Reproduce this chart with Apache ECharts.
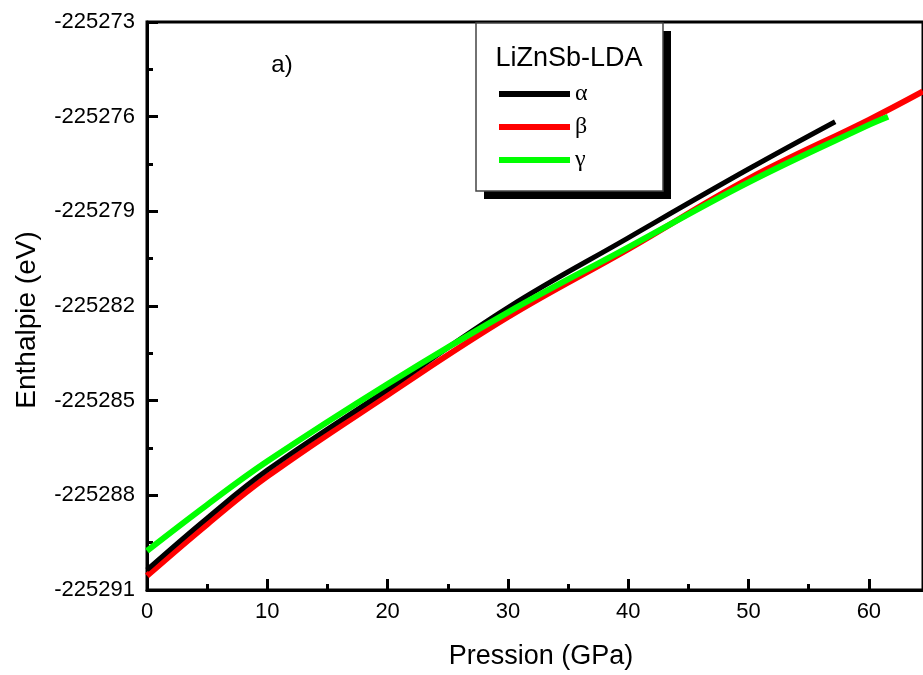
<!DOCTYPE html>
<html>
<head>
<meta charset="utf-8">
<script src="https://cdn.jsdelivr.net/npm/echarts@6/dist/echarts.min.js"></script>
<style>
html,body{margin:0;padding:0;background:#fff;}
#chart{width:923px;height:675px;}
</style>
</head>
<body>
<div id="chart"></div>
<script>
// ---- data ----
const legendTitle = 'LiZnSb-LDA';
const seriesNames = ['α', 'β', 'γ'];
const seriesColors = ['#000000', '#ff0000', '#00ff00'];

const pressureAlpha = [0, 5, 10, 20, 30, 40, 50, 57.2];
const enthalpyAlpha = [-225290.36, -225288.72, -225287.20, -225284.64, -225282.05, -225279.84, -225277.66, -225276.16];

const pressureBeta = [0, 5, 10, 20, 30, 40, 50, 60, 64.5];
const enthalpyBeta = [-225290.55, -225288.92, -225287.40, -225284.82, -225282.35, -225280.20, -225277.97, -225276.10, -225275.20];

const pressureGamma = [0, 5, 10, 20, 30, 40, 50, 60, 61.6];
const enthalpyGamma = [-225289.76, -225288.30, -225286.92, -225284.47, -225282.20, -225280.14, -225278.08, -225276.26, -225276.00];

const xTicks = [0, 10, 20, 30, 40, 50, 60];
const yTicks = [-225291, -225288, -225285, -225282, -225279, -225276, -225273];

function pairs(xs, ys) { return xs.map((x, i) => [x, ys[i]]); }

const chart = echarts.init(document.getElementById('chart'), null, {renderer: 'canvas'});
const sansFont = '"Liberation Sans", Arial, sans-serif';
const serifFont = '"Liberation Serif", "Times New Roman", serif';

chart.setOption({
  animation: false,
  backgroundColor: '#ffffff',
  grid: {
    left: 147, top: 22, right: -2, bottom: 85,
    show: true, borderColor: '#000', borderWidth: 3, backgroundColor: 'transparent'
  },
  xAxis: {
    type: 'value', min: 0, max: 64.5, interval: 10,
    axisLine: {show: true, lineStyle: {color: '#000', width: 3}},
    axisTick: {show: true, inside: true, length: 11, lineStyle: {color: '#000', width: 3}},
    minorTick: {show: true, splitNumber: 2, length: 6, lineStyle: {color: '#000', width: 3}},
    splitLine: {show: false},
    axisLabel: {
      color: '#000', fontFamily: sansFont, fontSize: 22, margin: 11,
      showMaxLabel: false,
      formatter: v => (xTicks.indexOf(v) >= 0 ? String(v) : '')
    }
  },
  yAxis: {
    type: 'value', min: yTicks[0], max: yTicks[yTicks.length - 1], interval: 3,
    axisLine: {show: true, lineStyle: {color: '#000', width: 3}},
    axisTick: {show: true, inside: true, length: 11, lineStyle: {color: '#000', width: 3}},
    minorTick: {show: true, splitNumber: 2, length: 6, lineStyle: {color: '#000', width: 3}},
    splitLine: {show: false},
    axisLabel: {
      color: '#000', fontFamily: sansFont, fontSize: 22, margin: 12,
      formatter: v => String(v)
    }
  },
  legend: {
    orient: 'vertical', left: 494, top: 77, z: 200,
    icon: 'rect', itemWidth: 71, itemHeight: 6, itemGap: 9,
    textStyle: {color: '#000', fontFamily: serifFont, fontSize: 24, lineHeight: 24, padding: [0, 0, 0, 0]},
    data: seriesNames
  },
  graphic: [
    {type: 'rect', shape: {x: 484, y: 31, width: 187, height: 168}, style: {fill: '#000'}, z: 100},
    {type: 'rect', shape: {x: 476, y: 23, width: 187, height: 168}, style: {fill: '#fff', stroke: '#444', lineWidth: 1.5}, z: 101},
    {type: 'text', x: 569, y: 59, z: 102, style: {text: legendTitle, font: '27px ' + sansFont, fill: '#000', textAlign: 'center', textVerticalAlign: 'middle'}},
    {type: 'text', x: 282, y: 65, z: 102, style: {text: 'a)', font: '24px ' + sansFont, fill: '#000', textAlign: 'center', textVerticalAlign: 'middle'}},
    {type: 'text', x: 541, y: 657, z: 102, style: {text: 'Pression (GPa)', font: '27px ' + sansFont, fill: '#000', textAlign: 'center', textVerticalAlign: 'middle'}},
    {type: 'text', x: 27, y: 320, rotation: Math.PI / 2, z: 102, style: {text: 'Enthalpie (eV)', font: '28px ' + sansFont, fill: '#000', textAlign: 'center', textVerticalAlign: 'middle'}}
  ],
  series: [
    {name: seriesNames[0], type: 'line', data: pairs(pressureAlpha, enthalpyAlpha), smooth: 0.4, showSymbol: false,
     lineStyle: {color: seriesColors[0], width: 5}, itemStyle: {color: seriesColors[0]}, z: 3},
    {name: seriesNames[1], type: 'line', data: pairs(pressureBeta, enthalpyBeta), smooth: 0.4, showSymbol: false,
     lineStyle: {color: seriesColors[1], width: 6}, itemStyle: {color: seriesColors[1]}, z: 2},
    {name: seriesNames[2], type: 'line', data: pairs(pressureGamma, enthalpyGamma), smooth: 0.4, showSymbol: false,
     lineStyle: {color: seriesColors[2], width: 6}, itemStyle: {color: seriesColors[2]}, z: 4}
  ]
});
</script>
</body>
</html>
